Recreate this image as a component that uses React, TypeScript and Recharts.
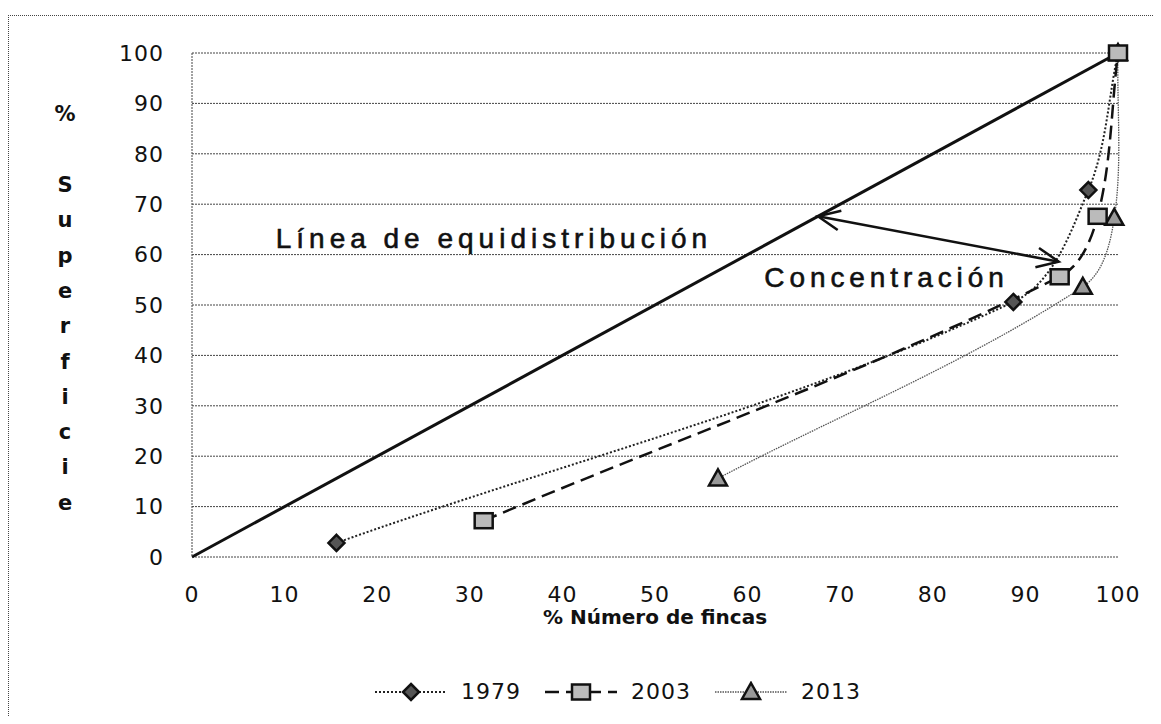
import { LineChart, Line, XAxis, YAxis, CartesianGrid, Legend, ReferenceLine, ReferenceDot } from "recharts";

const xTicks = [0, 10, 20, 30, 40, 50, 60, 70, 80, 90, 100];
const yTicks = [0, 10, 20, 30, 40, 50, 60, 70, 80, 90, 100];

const equiLine = [
  { x: 0, y: 0 },
  { x: 100, y: 100 },
];
const data1979 = [
  { x: 15.6, y: 2.8 },
  { x: 88.7, y: 50.6 },
  { x: 96.8, y: 72.8 },
  { x: 100, y: 100 },
];
const data2003 = [
  { x: 31.5, y: 7.2 },
  { x: 93.7, y: 55.6 },
  { x: 97.8, y: 67.6 },
  { x: 100, y: 100 },
];
const data2013 = [
  { x: 56.8, y: 15.6 },
  { x: 96.2, y: 53.6 },
  { x: 99.6, y: 67.3 },
  { x: 100, y: 100 },
];

const yLetters = ["S", "u", "p", "e", "r", "f", "i", "c", "i", "e"];

const series = [
  { name: "1979", data: data1979, dash: "2 2", width: 2, color: "#222", marker: "diamond" },
  { name: "2003", data: data2003, dash: "14 7", width: 2.5, color: "#111", marker: "square" },
  { name: "2013", data: data2013, dash: "1.5 1", width: 1.3, color: "#555", marker: "triangle" },
];
// draw order so the 2003 square ends on top at (100, 100)
const drawOrder = ["2013", "1979", "2003"];

const font = "'DejaVu Sans', Verdana, sans-serif";
const arial = "'Liberation Sans', Arial, sans-serif";

// smoothed line like the spreadsheet one: tangent from neighbours,
// handle length a third of the segment
function excelSmooth(context) {
  let pts = [];
  const unit = (dx, dy) => {
    const l = Math.hypot(dx, dy) || 1;
    return [dx / l, dy / l];
  };
  return {
    areaStart() {},
    areaEnd() {},
    lineStart() {
      pts = [];
    },
    point(x, y) {
      pts.push([+x, +y]);
    },
    lineEnd() {
      const n = pts.length;
      if (!n) return;
      const tan = pts.map((p, i) => {
        const a = pts[Math.max(i - 1, 0)];
        const b = pts[Math.min(i + 1, n - 1)];
        return unit(b[0] - a[0], b[1] - a[1]);
      });
      context.moveTo(pts[0][0], pts[0][1]);
      for (let i = 0; i < n - 1; i++) {
        const p1 = pts[i];
        const p2 = pts[i + 1];
        const h = Math.hypot(p2[0] - p1[0], p2[1] - p1[1]) / 3;
        context.bezierCurveTo(
          p1[0] + tan[i][0] * h,
          p1[1] + tan[i][1] * h,
          p2[0] - tan[i + 1][0] * h,
          p2[1] - tan[i + 1][1] * h,
          p2[0],
          p2[1]
        );
      }
    },
  };
}

function Marker({ type, cx, cy }) {
  if (cx == null || cy == null) return null;
  if (type === "diamond") {
    return (
      <polygon
        points={`${cx},${cy - 8} ${cx + 8},${cy} ${cx},${cy + 8} ${cx - 8},${cy}`}
        fill="#555"
        stroke="#111"
        strokeWidth={2.5}
      />
    );
  }
  if (type === "square") {
    return <rect x={cx - 9} y={cy - 7.5} width={18} height={15} fill="#bbb" stroke="#111" strokeWidth={2.5} />;
  }
  return (
    <polygon
      points={`${cx},${cy - 9} ${cx + 9},${cy + 7} ${cx - 9},${cy + 7}`}
      fill="#999"
      stroke="#111"
      strokeWidth={2.5}
    />
  );
}

function Arrow({ x1, y1, x2, y2 }) {
  const ang = Math.atan2(y2 - y1, x2 - x1);
  const len = 24;
  const spread = 0.42;
  const head = (x, y, a) => [
    [x + len * Math.cos(a + spread), y + len * Math.sin(a + spread)],
    [x + len * Math.cos(a - spread), y + len * Math.sin(a - spread)],
  ];
  const h1 = head(x1, y1, ang);
  const h2 = head(x2, y2, ang + Math.PI);
  return (
    <g stroke="#111" strokeWidth={2.5} fill="none">
      <line x1={x1} y1={y1} x2={x2} y2={y2} />
      <polyline points={`${h1[0][0]},${h1[0][1]} ${x1},${y1} ${h1[1][0]},${h1[1][1]}`} />
      <polyline points={`${h2[0][0]},${h2[0][1]} ${x2},${y2} ${h2[1][0]},${h2[1][1]}`} />
    </g>
  );
}

function LegendContent() {
  return (
    <div style={{ display: "flex", alignItems: "center", fontFamily: font, fontSize: 22, color: "#111" }}>
      {series.map((s) => (
        <div key={s.name} style={{ display: "flex", alignItems: "center", marginRight: 24 }}>
          <svg width={72} height={22}>
            <line x1={0} y1={11} x2={72} y2={11} stroke={s.color} strokeWidth={s.width} strokeDasharray={s.dash} />
            <Marker type={s.marker} cx={36} cy={11} />
          </svg>
          <span style={{ marginLeft: 14, letterSpacing: 1 }}>{s.name}</span>
        </div>
      ))}
    </div>
  );
}

function YLabel() {
  return (
    <g fontFamily={font} fontWeight="bold" fontSize={21} fill="#111" textAnchor="middle">
      <text x={57} y={113}>%</text>
      {yLetters.map((l, i) => (
        <text key={i} x={57} y={184 + i * 35.3}>
          {l}
        </text>
      ))}
    </g>
  );
}

const noteText = (label, spacing) => (p) => (
  <text
    x={p.cx}
    y={p.cy + 10}
    textAnchor="middle"
    fontFamily={arial}
    fontSize={28}
    letterSpacing={spacing}
    fill="#111"
    stroke="#111"
    strokeWidth={0.6}
  >
    {label}
  </text>
);

export default function App() {
  return (
    <div style={{ position: "relative", width: 1153, height: 708, overflow: "hidden", background: "#fff" }}>
      <div
        style={{
          position: "absolute",
          left: 0,
          top: 7,
          width: 1200,
          height: 800,
          borderLeft: "1px dotted #444",
          borderTop: "1px dotted #444",
        }}
      />
      <LineChart width={1153} height={708} margin={{ top: 45, right: 43, left: 124, bottom: 99 }}>
        <CartesianGrid vertical={false} stroke="#444" strokeDasharray="2 1" />
        <XAxis
          type="number"
          dataKey="x"
          domain={[0, 100]}
          ticks={xTicks}
          axisLine={false}
          tickLine={false}
          tickSize={0}
          tickMargin={29}
          height={60}
          tick={{ fontFamily: font, fontSize: 22, fill: "#111", letterSpacing: 1 }}
          label={{
            content: ({ viewBox }) => (
              <text
                x={viewBox.x + viewBox.width / 2}
                y={viewBox.y + 67}
                textAnchor="middle"
                fontFamily={font}
                fontWeight="bold"
                fontSize={20}
                fill="#111"
              >
                % Número de fincas
              </text>
            ),
          }}
        />
        <YAxis
          type="number"
          dataKey="y"
          domain={[0, 100]}
          ticks={yTicks}
          width={60}
          axisLine={{ stroke: "#444", strokeDasharray: "2 1" }}
          tickLine={false}
          tickSize={0}
          tickMargin={28}
          tick={{ fontFamily: font, fontSize: 22, fill: "#111", letterSpacing: 1 }}
          label={{ content: () => <YLabel /> }}
        />
        <Line
          data={equiLine}
          dataKey="y"
          type="linear"
          stroke="#111"
          strokeWidth={3}
          dot={false}
          isAnimationActive={false}
          legendType="none"
        />
        {drawOrder.map((name) => {
          const s = series.find((d) => d.name === name);
          return (
            <Line
              key={s.name}
              data={s.data}
              dataKey="y"
              name={s.name}
              type={excelSmooth}
              stroke={s.color}
              strokeWidth={s.width}
              strokeDasharray={s.dash}
              dot={(p) => <Marker key={`${s.name}-${p.index}`} type={s.marker} cx={p.cx} cy={p.cy} />}
              isAnimationActive={false}
            />
          );
        })}
        <ReferenceLine
          segment={[
            { x: 67.6, y: 67.6 },
            { x: 93.6, y: 58.6 },
          ]}
          shape={(p) => <Arrow x1={p.x1} y1={p.y1} x2={p.x2} y2={p.y2} />}
        />
        <ReferenceDot x={32.6} y={63.3} r={0} shape={noteText("Línea de equidistribución", 5)} />
        <ReferenceDot x={75} y={55.6} r={0} shape={noteText("Concentración", 4.9)} />
        <Legend
          layout="horizontal"
          verticalAlign="middle"
          align="center"
          wrapperStyle={{ top: 671, left: 367, width: 580 }}
          content={() => <LegendContent />}
        />
      </LineChart>
    </div>
  );
}
